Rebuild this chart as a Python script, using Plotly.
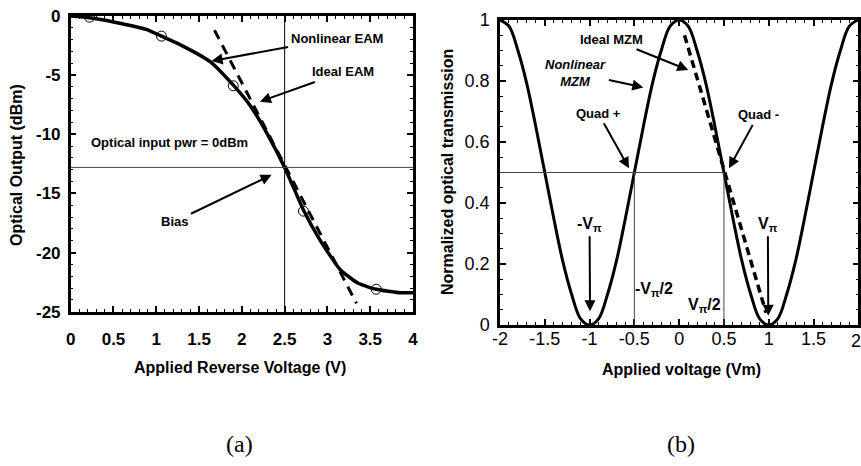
import plotly.graph_objects as go

# ---------------- (a) EAM transfer curve ----------------
eam_v = [0.0, 0.22, 0.5, 0.89, 1.06, 1.3, 1.63, 1.9, 2.1, 2.3, 2.5, 2.72, 2.91, 3.15, 3.36, 3.57, 3.85, 4.0]
eam_out = [0.0, -0.15, -0.5, -1.15, -1.7, -2.5, -3.86, -5.85, -7.6, -10.0, -12.8, -16.4, -18.9, -21.45, -22.6, -23.1, -23.4, -23.4]
eam_meas_v = [0.22, 1.06, 1.9, 2.72, 3.57]
eam_meas_out = [-0.1, -1.7, -5.9, -16.5, -23.1]
ideal_eam_v = [1.68, 3.34]
ideal_eam_out = [-1.2, -24.3]
bias_v = 2.5
bias_out = -12.8
eam_xticks = [0, 0.5, 1, 1.5, 2, 2.5, 3, 3.5, 4]
eam_yticks = [0, -5, -10, -15, -20, -25]
eam_yticktext = ["0", "-5", "-10", "-15", "-20", "-25"]

# ---------------- (b) MZM transfer curve ----------------
mzm_v = [-2.0, -1.9, -1.8, -1.7, -1.6, -1.5, -1.4, -1.3, -1.2, -1.1, -1.0,
         -0.9, -0.8, -0.7, -0.6, -0.5, -0.4, -0.3, -0.2, -0.1, 0.0,
         0.1, 0.2, 0.3, 0.4, 0.5, 0.6, 0.7, 0.8, 0.9, 1.0,
         1.1, 1.2, 1.3, 1.4, 1.5, 1.6, 1.7, 1.8, 1.9, 2.0]
mzm_t = [1.00, 0.98, 0.90, 0.79, 0.65, 0.50, 0.35, 0.21, 0.10, 0.02, 0.00,
         0.02, 0.10, 0.21, 0.35, 0.50, 0.65, 0.79, 0.90, 0.98, 1.00,
         0.98, 0.90, 0.79, 0.65, 0.50, 0.35, 0.21, 0.10, 0.02, 0.00,
         0.02, 0.10, 0.21, 0.35, 0.50, 0.65, 0.79, 0.90, 0.98, 1.00]
ideal_mzm_v = [0.06, 0.97]
ideal_mzm_t = [0.95, 0.04]
quad_t = 0.5
quad_v = [-0.5, 0.5]
mzm_xticks = [-2, -1.5, -1, -0.5, 0, 0.5, 1, 1.5, 2]
mzm_xticktext = ["-2", "-1.5", "-1", "-0.5", "0", "0.5", "1", "1.5", "2"]
mzm_yticks = [0, 0.2, 0.4, 0.6, 0.8, 1]

W, H = 861, 466
FONT = "Arial, Liberation Sans, sans-serif"


def px_x(p):
    return p / W


def px_y(p):
    return 1 - p / H


fig = go.Figure()

# (a) traces
fig.add_trace(go.Scatter(x=ideal_eam_v, y=ideal_eam_out, mode="lines",
                         line=dict(color="black", width=3, dash="10px,7px"),
                         xaxis="x", yaxis="y", showlegend=False))
fig.add_trace(go.Scatter(x=eam_v, y=eam_out, mode="lines",
                         line=dict(color="black", width=3.5, shape="spline", smoothing=0.5),
                         xaxis="x", yaxis="y", showlegend=False))
fig.add_trace(go.Scatter(x=eam_meas_v, y=eam_meas_out, mode="markers",
                         marker=dict(symbol="circle-open", size=10, color="black", line=dict(width=1)),
                         xaxis="x", yaxis="y", showlegend=False))

# (b) traces
fig.add_trace(go.Scatter(x=mzm_v, y=mzm_t, mode="lines",
                         line=dict(color="black", width=3, shape="spline", smoothing=1),
                         xaxis="x2", yaxis="y2", showlegend=False))
fig.add_trace(go.Scatter(x=ideal_mzm_v, y=ideal_mzm_t, mode="lines",
                         line=dict(color="black", width=3.5, dash="8px,5px"),
                         xaxis="x2", yaxis="y2", showlegend=False))

# reference lines
shapes = [
    dict(type="line", xref="x", yref="y", x0=bias_v, x1=bias_v, y0=-25, y1=0,
         line=dict(color="black", width=1)),
    dict(type="line", xref="x", yref="y", x0=0, x1=4, y0=bias_out, y1=bias_out,
         line=dict(color="#444", width=1)),
    dict(type="line", xref="x2", yref="y2", x0=-2, x1=quad_v[1], y0=quad_t, y1=quad_t,
         line=dict(color="#444", width=1)),
    dict(type="line", xref="x2", yref="y2", x0=quad_v[0], x1=quad_v[0], y0=0, y1=quad_t,
         line=dict(color="#444", width=1)),
    dict(type="line", xref="x2", yref="y2", x0=quad_v[1], x1=quad_v[1], y0=0, y1=quad_t,
         line=dict(color="#444", width=1)),
]

ann = []


def fnt(size=13, bold=True, italic=False, family=FONT):
    return dict(family=family, size=size, color="black",
                weight="bold" if bold else "normal",
                style="italic" if italic else "normal")


def text(x, y, t, ref="", size=13, bold=True, italic=False):
    ann.append(dict(x=x, y=y, xref="x" + ref, yref="y" + ref, text=t, showarrow=False,
                    font=fnt(size, bold, italic)))


def label_arrow(tx, ty, hx, hy, t, ref="", size=13, italic=False, standoff=0):
    # text placed at (tx, ty), arrow drawn from the text to the head (hx, hy)
    ann.append(dict(x=hx, y=hy, ax=tx, ay=ty, xref="x" + ref, yref="y" + ref,
                    axref="x" + ref, ayref="y" + ref, text=t, showarrow=True,
                    arrowhead=2, arrowsize=1.1, arrowwidth=2, arrowcolor="black",
                    standoff=standoff, borderpad=2, font=fnt(size, True, italic)))


# (a) annotations
label_arrow(3.107, -1.88, 1.647, -3.8, "Nonlinear EAM")
label_arrow(3.18, -4.73, 2.211, -7.24, "Ideal EAM")
text(1.16, -10.7, "Optical input pwr = 0dBm")
label_arrow(1.218, -17.37, 2.348, -13.43, "Bias")

# (b) annotations
label_arrow(-0.753, 0.937, 0.102, 0.836, "Ideal MZM", ref="2")
label_arrow(-1.153, 0.826, -0.40, 0.779, "Nonlinear<br>MZM", ref="2", italic=True)
label_arrow(-0.903, 0.694, -0.56, 0.514, "Quad +", ref="2")
label_arrow(0.883, 0.689, 0.556, 0.514, "Quad -", ref="2")
label_arrow(-1.0, 0.33, -0.995, 0.045, "-V<sub>π</sub>", ref="2", size=16)
label_arrow(0.99, 0.33, 0.995, 0.03, "V<sub>π</sub>", ref="2", size=16)
text(-0.28, 0.115, "-V<sub>π</sub>/2", ref="2", size=16)
text(0.28, 0.065, "V<sub>π</sub>/2", ref="2", size=16)

# the last tick label of panel (b) sits right at the page edge
ann.append(dict(x=mzm_xticks[-1], y=px_y(341), xref="x2", yref="paper",
                text=mzm_xticktext[-1], showarrow=False, xanchor="center", yanchor="middle",
                xshift=-2, font=fnt(18, False)))


def ptext(xp, yp, t, size=16, family=FONT, bold=True, angle=0):
    ann.append(dict(x=px_x(xp), y=px_y(yp), xref="paper", yref="paper", text=t,
                    showarrow=False, textangle=angle, xanchor="center", yanchor="middle",
                    font=fnt(size, bold, False, family)))


ptext(240, 367, "Applied Reverse Voltage (V)")
ptext(681, 369, "Applied voltage (Vm)")
ptext(17, 165, "Optical Output (dBm)", angle=-90)
ptext(447, 172, "Normalized optical transmission", angle=-90)
ptext(239, 444, "(a)", size=24, family="Liberation Serif, Times New Roman, serif", bold=False)
ptext(681, 444, "(b)", size=24, family="Liberation Serif, Times New Roman, serif", bold=False)

common = dict(showline=True, linecolor="black", linewidth=2.5, mirror="ticks",
              ticks="inside", ticklen=6, tickwidth=1.5, tickcolor="black",
              showgrid=False, zeroline=False, fixedrange=True, automargin=False)

fig.update_layout(
    width=W, height=H, margin=dict(l=0, r=0, t=0, b=0, autoexpand=False),
    paper_bgcolor="white", plot_bgcolor="white", showlegend=False,
    shapes=shapes, annotations=ann,
    xaxis=dict(domain=[px_x(70.7), px_x(413)], anchor="y", range=[0, 4],
               tickvals=eam_xticks, ticklabelstandoff=10,
               tickfont=dict(family=FONT, size=17, weight="bold", color="black"),
               minor=dict(ticks="inside", ticklen=3, dtick=0.1, tickcolor="black", tickwidth=1),
               **common),
    yaxis=dict(domain=[px_y(311.7), px_y(16)], anchor="x", range=[-25, 0],
               tickvals=eam_yticks, ticktext=eam_yticktext, ticklabelstandoff=4,
               tickfont=dict(family=FONT, size=17, weight="bold", color="black"),
               minor=dict(ticks="inside", ticklen=3, dtick=1, tickcolor="black", tickwidth=1),
               **common),
    xaxis2=dict(domain=[px_x(500), px_x(858.3)], anchor="y2", range=[-2, 2],
                tickvals=mzm_xticks[:-1], ticktext=mzm_xticktext[:-1], ticklabelstandoff=-4,
                tickfont=dict(family=FONT, size=18, color="black"),
                minor=dict(ticks="inside", ticklen=3, dtick=0.1, tickcolor="black", tickwidth=1),
                **common),
    yaxis2=dict(domain=[px_y(325), px_y(20)], anchor="x2", range=[0, 1],
                tickvals=mzm_yticks, ticklabelstandoff=4,
                tickfont=dict(family=FONT, size=18, color="black"),
                minor=dict(ticks="inside", ticklen=3, dtick=0.05, tickcolor="black", tickwidth=1),
                **common),
)

fig.write_html("out.html")
